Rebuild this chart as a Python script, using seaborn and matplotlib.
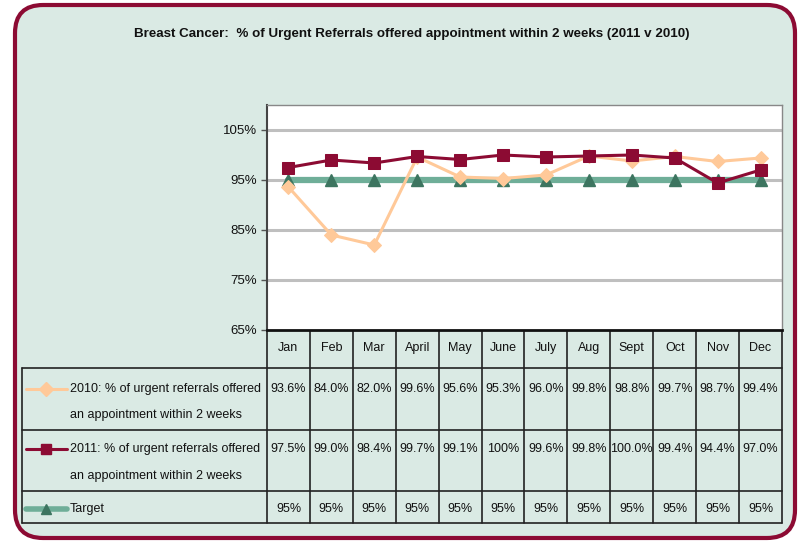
import matplotlib
matplotlib.use("Agg")
import matplotlib.pyplot as plt
import seaborn as sns
import pandas as pd
from matplotlib.patches import FancyBboxPatch
from matplotlib.lines import Line2D

months = ["Jan", "Feb", "Mar", "April", "May", "June", "July", "Aug", "Sept", "Oct", "Nov", "Dec"]
vals_2010 = [93.6, 84.0, 82.0, 99.6, 95.6, 95.3, 96.0, 99.8, 98.8, 99.7, 98.7, 99.4]
vals_2011 = [97.5, 99.0, 98.4, 99.7, 99.1, 100.0, 99.6, 99.8, 100.0, 99.4, 94.4, 97.0]
target = [95] * 12
labels_2010 = ["93.6%", "84.0%", "82.0%", "99.6%", "95.6%", "95.3%", "96.0%", "99.8%", "98.8%", "99.7%", "98.7%", "99.4%"]
labels_2011 = ["97.5%", "99.0%", "98.4%", "99.7%", "99.1%", "100%", "99.6%", "99.8%", "100.0%", "99.4%", "94.4%", "97.0%"]
labels_target = ["95%"] * 12
yticks = [65, 75, 85, 95, 105]
title = "Breast Cancer:  % of Urgent Referrals offered appointment within 2 weeks (2011 v 2010)"
name_2010 = ["2010: % of urgent referrals offered", "an appointment within 2 weeks"]
name_2011 = ["2011: % of urgent referrals offered", "an appointment within 2 weeks"]
name_target = "Target"

C2010 = "#FFC999"
C2011 = "#8C0B33"
CTGT = "#6FAE98"
CTRI = "#3D7560"
BG = "#DAEAE4"

sns.set_theme(style="white")
plt.rcParams["font.family"] = ["Liberation Sans", "DejaVu Sans"]

W, H = 803, 543
fig = plt.figure(figsize=(W / 100, H / 100), dpi=100)
fig.patch.set_facecolor("white")

def fx(x):
    return x / W

def fy(y):
    return 1 - y / H

# rounded border
box = FancyBboxPatch((fx(15), fy(538)), fx(780), (533) / H,
                     boxstyle="round,pad=0,rounding_size=0.035",
                     transform=fig.transFigure, facecolor=BG, edgecolor=C2011,
                     linewidth=3, zorder=-5, mutation_aspect=W / H)
fig.patches.append(box)

fig.text(fx(412), fy(34), title, ha="center", va="center", fontsize=9.6,
         fontweight="bold", color="#111111")

L, R, T, B = 267, 782, 105, 330
ax = fig.add_axes([fx(L), fy(B), fx(R - L), (B - T) / H])
ax.set_zorder(5)
ax.set_facecolor("white")

df = pd.DataFrame({"month": list(range(12)), "v2010": vals_2010, "v2011": vals_2011, "target": target})
sns.lineplot(data=df, x="month", y="target", ax=ax, color=CTGT, linewidth=4.5, zorder=2)
ax.plot(df["month"], df["target"], linestyle="none", marker="^", markersize=8,
        color=CTRI, zorder=3)
sns.lineplot(data=df, x="month", y="v2010", ax=ax, color=C2010, linewidth=2.2,
             marker="D", markersize=7.5, markeredgecolor=C2010, zorder=4)
sns.lineplot(data=df, x="month", y="v2011", ax=ax, color=C2011, linewidth=2.2,
             marker="s", markersize=8, markeredgecolor=C2011, zorder=5)

ax.set_xlim(-0.5, 11.5)
ax.set_ylim(65, 110)
ax.set_yticks(yticks)
ax.set_yticklabels([f"{t}%" for t in yticks], fontsize=9.5, color="#111111")
ax.set_xticks([])
ax.set_xlabel("")
ax.set_ylabel("")
for t in [75, 85, 95, 105]:
    ax.axhline(t, color="#BFBFBF", linewidth=2.2, zorder=1)
ax.tick_params(axis="y", length=4, width=1, color="#555555", direction="out", pad=3, left=True)
for s in ["top", "right"]:
    ax.spines[s].set_color("#888888")
    ax.spines[s].set_linewidth(1)
ax.spines["left"].set_color("#444444")
ax.spines["left"].set_linewidth(1.5)
ax.spines["bottom"].set_color("#111111")
ax.spines["bottom"].set_linewidth(2)

# table
TL = 22
rows_y = [330, 368, 430, 491, 523]
lw = 1.2
lc = "#222222"
def hline(x0, x1, y):
    fig.add_artist(Line2D([fx(x0), fx(x1)], [fy(y), fy(y)], transform=fig.transFigure, color=lc, linewidth=lw))
def vline(x, y0, y1):
    fig.add_artist(Line2D([fx(x), fx(x)], [fy(y0), fy(y1)], transform=fig.transFigure, color=lc, linewidth=lw))

for y in rows_y[1:]:
    hline(TL, R, y)
vline(TL, 368, 523)
colw = (R - L) / 12
for i in range(13):
    vline(L + i * colw, 330, 523)

fs = 9
for i, m in enumerate(months):
    cx = L + (i + 0.5) * colw
    fig.text(fx(cx), fy(348), m, ha="center", va="center", fontsize=fs, color="#111111")
    fig.text(fx(cx), fy(389), labels_2010[i], ha="center", va="center", fontsize=fs, color="#111111")
    fig.text(fx(cx), fy(449), labels_2011[i], ha="center", va="center", fontsize=fs, color="#111111")
    fig.text(fx(cx), fy(509), labels_target[i], ha="center", va="center", fontsize=fs, color="#111111")

# legend keys
def key(y, color, marker, ms, mcolor, lwk):
    fig.add_artist(Line2D([fx(26), fx(67)], [fy(y), fy(y)], transform=fig.transFigure,
                          color=color, linewidth=lwk))
    fig.add_artist(Line2D([fx(46.5)], [fy(y)], transform=fig.transFigure, linestyle="none",
                          marker=marker, markersize=ms, color=mcolor))

key(389, C2010, "D", 7, C2010, 2.2)
key(449, C2011, "s", 7.5, C2011, 2.2)
key(509, CTGT, "^", 7.5, CTRI, 4)

fig.text(fx(70), fy(389), name_2010[0], ha="left", va="center", fontsize=fs, color="#111111")
fig.text(fx(70), fy(415), name_2010[1], ha="left", va="center", fontsize=fs, color="#111111")
fig.text(fx(70), fy(449), name_2011[0], ha="left", va="center", fontsize=fs, color="#111111")
fig.text(fx(70), fy(476), name_2011[1], ha="left", va="center", fontsize=fs, color="#111111")
fig.text(fx(70), fy(509), name_target, ha="left", va="center", fontsize=fs, color="#111111")

fig.savefig("out.png", dpi=100, facecolor=fig.get_facecolor())
